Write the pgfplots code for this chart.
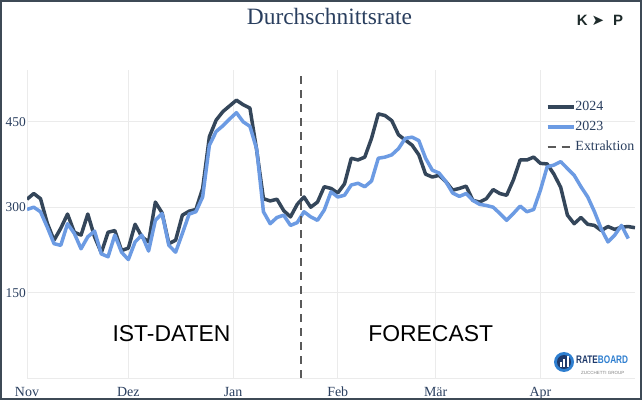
\documentclass[border=0pt]{standalone}
\usepackage{fontspec}
\setmainfont{Liberation Serif}
\newfontfamily\sansf{Liberation Sans}
\newfontfamily\dejavu{DejaVu Sans}
\usepackage{graphicx}
\usepackage{pgfplots}
\pgfplotsset{compat=1.18}
\definecolor{c24}{HTML}{34465A}
\definecolor{c23}{HTML}{6C9BE3}
\definecolor{txt}{HTML}{2A3F5F}
\definecolor{gridc}{HTML}{EBEBEB}
\definecolor{framec}{HTML}{3E4A56}
\definecolor{dashc}{HTML}{5A5A5A}
\definecolor{navy}{HTML}{1F3A6B}
\definecolor{rbblue}{HTML}{2F7FD0}
\definecolor{kcol}{HTML}{1E2B2B}

% day index from 1 Nov, one point every two days
\pgfplotstableread{
x y
0 314
2 324
4 315
6 272
8 242
10 263
12 288
14 256
16 251
18 288
20 248
22 220
24 256
26 259
28 224
30 228
32 270
34 248
36 239
38 309
40 290
42 236
44 242
46 286
48 293
50 296
52 333
54 424
56 453
58 468
60 478
62 488
64 480
66 474
68 400
70 315
72 311
74 314
76 294
78 283
80 305
82 318
84 300
86 309
88 336
90 333
92 325
94 341
96 386
98 383
100 388
102 421
104 464
106 461
108 452
110 427
112 418
114 409
116 392
118 358
120 353
122 356
124 345
126 330
128 333
130 337
132 312
134 309
136 315
138 331
140 324
142 321
144 348
146 383
148 383
150 388
152 377
154 376
156 358
158 335
160 286
162 271
164 282
166 270
168 268
170 259
172 266
174 261
176 265
178 266
180 264
}\tabA

\pgfplotstableread{
x y
0 296
2 300
4 292
6 265
8 236
10 233
12 271
14 254
16 227
18 248
20 258
22 218
24 213
26 251
28 221
30 208
32 239
34 251
36 223
38 277
40 289
42 233
44 221
46 254
48 288
50 292
52 318
54 409
56 433
58 443
60 455
62 466
64 450
66 442
68 402
70 292
72 271
74 282
76 286
78 268
80 273
82 292
84 283
86 277
88 295
90 327
92 318
94 321
96 339
98 342
100 336
102 346
104 386
106 388
108 392
110 403
112 421
114 423
116 417
118 386
120 365
122 360
124 345
126 325
128 319
130 324
132 312
134 305
136 303
138 300
140 289
142 277
144 289
146 302
148 292
150 296
152 330
154 371
156 374
158 380
160 368
162 356
164 336
166 318
168 292
170 262
172 239
174 251
176 268
178 245
}\tabB

\begin{document}
\begin{tikzpicture}
\useasboundingbox (0bp,0bp) rectangle (642bp,400bp);
\fill[white] (0bp,0bp) rectangle (642bp,400bp);
\begin{axis}[
  at={(27bp,22bp)}, anchor=south west,
  scale only axis, width=608bp, height=308bp,
  xmin=0, xmax=180, ymin=0, ymax=541,
  xtick={0,30,61,92,121,152},
  xticklabels={Nov,Dez,Jan,Feb,Mär,Apr},
  ytick={150,300,450},
  yticklabels={150,300,450},
  extra y ticks={0}, extra y tick labels={},
  extra y tick style={grid=major},
  grid=major,
  major grid style={draw=gridc, line width=0.8bp},
  axis line style={draw=none},
  tick style={draw=none},
  xticklabel style={font=\fontsize{14}{14}\selectfont, text=txt, anchor=base, yshift=-18.5bp},
  yticklabel style={font=\fontsize{13.5}{13.5}\selectfont, text=txt, anchor=east, inner sep=1bp},
  legend style={at={(0.8536,0.9003)}, anchor=north west, draw=none, fill=none,
    inner sep=0pt, outer sep=0pt, font=\fontsize{14}{14}\selectfont, text=txt,
    row sep=7bp,
    nodes={inner sep=0pt, text height=10bp, text depth=3bp},
    /tikz/every even column/.append style={column sep=5bp}},
  legend image code/.code={\draw[#1] (0bp,0bp) -- (26bp,0bp);},
  legend cell align=left,
]
\addplot[draw=c24, line width=3.5bp, line join=round] table[x=x,y=y]{\tabA};
\addlegendentry{2024}
\addplot[draw=c23, line width=3.5bp, line join=round] table[x=x,y=y]{\tabB};
\addlegendentry{2023}
\addplot[draw=dashc, line width=2bp, dash pattern=on 8bp off 6bp] coordinates {(81.1,0) (81.1,541)};
\addlegendentry{Extraktion}
\end{axis}

% title
\node[anchor=base, inner sep=0pt, font=\fontsize{23.5}{23.5}\selectfont, text=txt] at (329.5bp,375.5bp) {Durchschnittsrate};

% K > P logo
\node[anchor=base west, inner sep=0pt, font=\sansf\bfseries\fontsize{15}{15}\selectfont, text=kcol] at (576.7bp,374bp) {K};
\node[anchor=base, inner sep=0pt, font=\dejavu\fontsize{15}{15}\selectfont, text=kcol] at (598bp,374.5bp) {➤};
\node[anchor=base west, inner sep=0pt, font=\sansf\bfseries\fontsize{15}{15}\selectfont, text=kcol] at (613bp,374bp) {P};

% region labels
\node[anchor=base, inner sep=0pt, font=\sansf\fontsize{23}{23}\selectfont] at (171.5bp,58.5bp) {IST-DATEN};
\node[anchor=base, inner sep=0pt, font=\sansf\fontsize{23}{23}\selectfont] at (430.7bp,58.5bp) {FORECAST};

% Rateboard logo
\fill[rbblue] (564bp,38bp) circle (10bp);
\fill[navy] (564bp,38bp) circle (7bp);
\fill[white] (559.5bp,33bp) rectangle (561.5bp,38bp);
\fill[white] (563bp,33bp) rectangle (565bp,41bp);
\fill[white] (566.5bp,33bp) rectangle (568.5bp,44bp);
\node[anchor=base west, inner sep=0pt, font=\sansf\bfseries\fontsize{11}{11}\selectfont] at (576bp,36.5bp) {\scalebox{0.75}[1]{\textcolor{navy}{RATE}\textcolor{rbblue}{BOARD}}};
\node[anchor=base west, inner sep=0pt, font=\sansf\fontsize{4.5}{4.5}\selectfont, text=gray] at (581bp,26bp) {ZUCCHETTI GROUP};

% frame
\draw[framec, line width=2bp] (1bp,1bp) rectangle (641bp,399bp);
\end{tikzpicture}
\end{document}
